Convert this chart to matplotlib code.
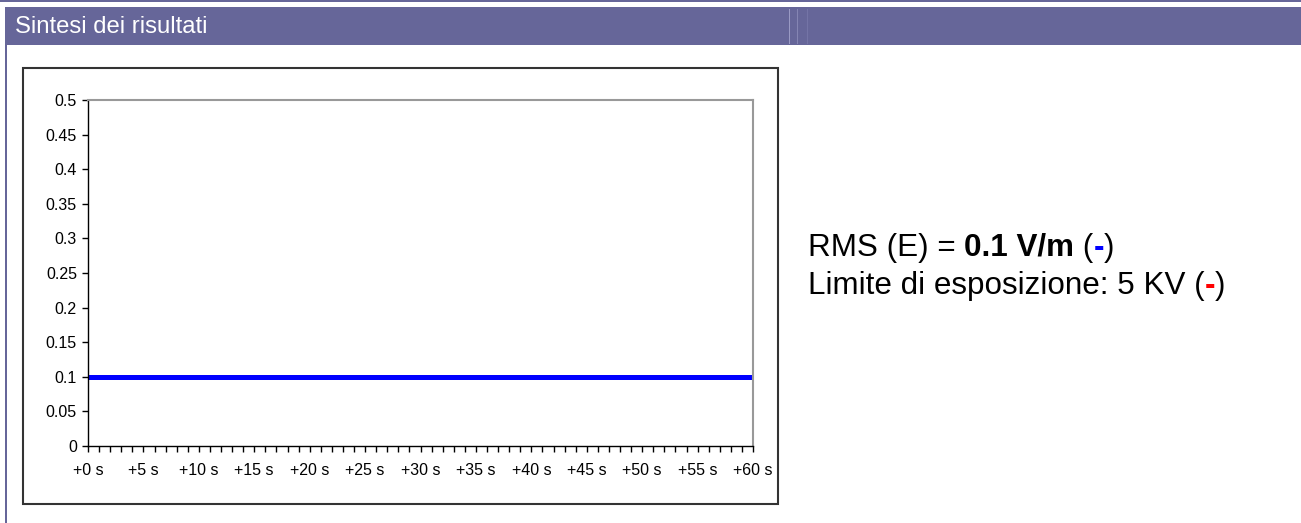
import matplotlib
matplotlib.use("Agg")
import matplotlib.pyplot as plt
from matplotlib.patches import Rectangle

# data
seconds = list(range(61))
rms_e = [0.1, 0.1, 0.1, 0.1, 0.1, 0.1, 0.1, 0.1, 0.1, 0.1,
         0.1, 0.1, 0.1, 0.1, 0.1, 0.1, 0.1, 0.1, 0.1, 0.1,
         0.1, 0.1, 0.1, 0.1, 0.1, 0.1, 0.1, 0.1, 0.1, 0.1,
         0.1, 0.1, 0.1, 0.1, 0.1, 0.1, 0.1, 0.1, 0.1, 0.1,
         0.1, 0.1, 0.1, 0.1, 0.1, 0.1, 0.1, 0.1, 0.1, 0.1,
         0.1, 0.1, 0.1, 0.1, 0.1, 0.1, 0.1, 0.1, 0.1, 0.1,
         0.1]
x_label_pos = [0, 5, 10, 15, 20, 25, 30, 35, 40, 45, 50, 55, 60]
x_labels = ["+0 s", "+5 s", "+10 s", "+15 s", "+20 s", "+25 s", "+30 s",
            "+35 s", "+40 s", "+45 s", "+50 s", "+55 s", "+60 s"]
y_ticks = [0, 0.05, 0.1, 0.15, 0.2, 0.25, 0.3, 0.35, 0.4, 0.45, 0.5]
y_labels = ["0", "0.05", "0.1", "0.15", "0.2", "0.25", "0.3", "0.35", "0.4", "0.45", "0.5"]

W, H = 1301, 523
PURPLE = "#666699"
plt.rcParams["font.family"] = ["Liberation Sans", "DejaVu Sans"]

fig = plt.figure(figsize=(W / 100, H / 100), dpi=100)


def box(x0, y0, x1, y1, **kw):
    # pixel coords, y from top
    fig.patches.append(Rectangle((x0 / W, 1 - y1 / H), (x1 - x0) / W, (y1 - y0) / H,
                                 transform=fig.transFigure, figure=fig, zorder=-5, **kw))


# header band and borders
box(0, 0, W, 2, facecolor=PURPLE, edgecolor="none")
box(5, 7, W, 45, facecolor=PURPLE, edgecolor="none")
box(5, 45, 7, H, facecolor=PURPLE, edgecolor="none")
for xx, c in [(789, "#9a9ac4"), (797, "#8585b3"), (807, "#7474a6")]:
    box(xx, 9, xx + 1, 44, facecolor=c, edgecolor="none")
fig.text(15 / W, 1 - 27 / H, "Sintesi dei risultati", color="white",
         fontsize=17.2, va="center", ha="left")

# chart frame
box(23, 68, 778, 504, facecolor="white", edgecolor="#333333", linewidth=1.5)

ax = fig.add_axes([88 / W, 1 - 446 / H, 665 / W, 346 / H])
ax.set_zorder(2)
ax.plot(seconds, rms_e, color="#0000ff", linewidth=3.6, solid_capstyle="butt")
ax.set_xlim(0, 60)
ax.set_ylim(0, 0.5)
ax.set_xticks(x_label_pos)
ax.set_xticklabels(x_labels)
ax.set_xticks(seconds, minor=True)
ax.set_yticks(y_ticks)
ax.set_yticklabels(y_labels)
ax.tick_params(axis="both", direction="out", length=4, width=1, color="black",
               labelsize=11.5, pad=4)
ax.tick_params(axis="x", which="minor", direction="out", length=4, width=1)
ax.tick_params(axis="x", pad=8)
for s in ["left", "bottom"]:
    ax.spines[s].set_color("black")
    ax.spines[s].set_linewidth(1)
for s in ["top", "right"]:
    ax.spines[s].set_color("#999999")
    ax.spines[s].set_linewidth(1.5)

# side summary text, drawn piece by piece
renderer = fig.canvas.get_renderer()


def line_of(parts, x, y, size=22.6):
    for txt, color, weight in parts:
        t = fig.text(x / W, 1 - y / H, txt, color=color, fontweight=weight,
                     fontsize=size, va="center", ha="left")
        bb = t.get_window_extent(renderer=renderer)
        x += bb.width


line_of([("RMS (E) = ", "black", "normal"), ("0.1 V/m", "black", "bold"),
         (" (", "black", "normal"), ("-", "#0000ff", "bold"), (")", "black", "normal")],
        808, 248)
line_of([("Limite di esposizione: 5 KV (", "black", "normal"), ("-", "#ff0000", "bold"),
         (")", "black", "normal")], 808, 286)

fig.savefig("out.png", dpi=100)
